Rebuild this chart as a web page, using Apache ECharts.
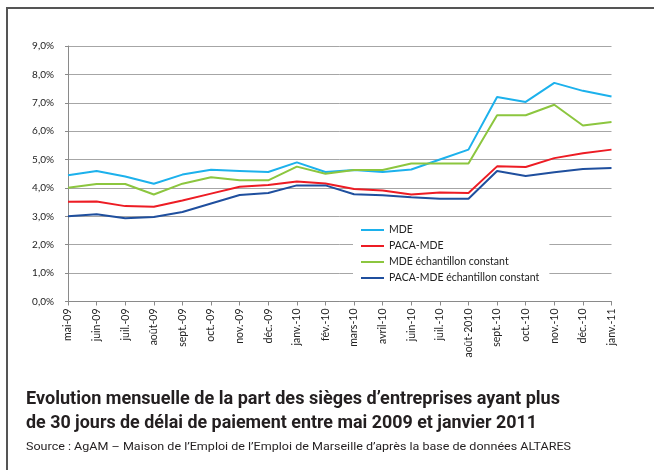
<!DOCTYPE html>
<html>
<head>
<meta charset="utf-8">
<script src="https://cdn.jsdelivr.net/npm/echarts@6/dist/echarts.min.js"></script>
<style>
html,body{margin:0;padding:0;background:#fff;}
#chart{width:654px;height:470px;}
</style>
</head>
<body>
<div id="chart"></div>
<script>
const categories = ['mai-09','juin-09','juil.-09','août-09','sept.-09','oct.-09','nov.-09','déc.-09','janv.-10','fév.-10','mars-10','avril-10','juin-10','juil.-10','août-2010','sept.-10','oct.-10','nov.-10','déc.-10','janv.-11'];
const seriesNames = ['MDE','PACA-MDE','MDE échantillon constant','PACA-MDE échantillon constant'];
const mde = [4.45,4.60,4.40,4.15,4.47,4.64,4.60,4.56,4.90,4.56,4.63,4.56,4.65,5.00,5.35,7.20,7.03,7.70,7.42,7.22];
const pacaMde = [3.51,3.52,3.36,3.34,3.56,3.80,4.04,4.10,4.23,4.16,3.96,3.91,3.77,3.84,3.82,4.76,4.74,5.05,5.22,5.35];
const mdeConst = [4.01,4.14,4.14,3.77,4.15,4.38,4.27,4.27,4.75,4.50,4.63,4.63,4.86,4.86,4.86,6.56,6.56,6.93,6.20,6.32];
const pacaMdeConst = [3.00,3.07,2.93,2.98,3.15,3.45,3.75,3.82,4.09,4.09,3.78,3.74,3.67,3.62,3.62,4.60,4.42,4.55,4.67,4.70];
const yTicks = {min:0, max:9, interval:1};
const titleLines = ['Evolution mensuelle de la part des sièges d’entreprises ayant plus','de 30 jours de délai de paiement entre mai 2009 et janvier 2011'];
const sourceText = 'Source : AgAM – Maison de l’Emploi de l’Emploi de Marseille d’après la base de données ALTARES';

const colors = ['#1cb1ec','#ed1c24','#8cc63f','#1f4f9e'];
const allData = [mde, pacaMde, mdeConst, pacaMdeConst];

function fitScale(text, font, w){
  const c = document.createElement('canvas').getContext('2d');
  c.font = font;
  return w / c.measureText(text).width;
}
const tFont = 'bold 18px Roboto';
const sFont = '11.5px Roboto';
const s1 = fitScale(titleLines[0], tFont, 534);
const s2 = fitScale(titleLines[1], tFont, 511);
const s3 = fitScale(sourceText, sFont, 545);

const chart = echarts.init(document.getElementById('chart'), null, {renderer:'canvas'});
chart.setOption({
  animation:false,
  backgroundColor:'#fff',
  grid:{left:68, right:42.5, top:46, bottom:168.5, containLabel:false},
  legend:{
    orient:'vertical', left:353, top:222,
    padding:[2,10,1,8], backgroundColor:'#fff',
    icon:'rect', itemWidth:23, itemHeight:2, itemGap:4,
    textStyle:{fontFamily:'Lato', fontSize:10.5, color:'#222', lineHeight:12},
    data: seriesNames
  },
  xAxis:{
    type:'category', data:categories, boundaryGap:false,
    axisLine:{lineStyle:{color:'#8a8a8a', width:1}},
    axisTick:{show:true, length:4, alignWithLabel:true, lineStyle:{color:'#8a8a8a'}},
    axisLabel:{rotate:90, interval:0, margin:7, fontFamily:'Lato', fontSize:10.5, color:'#222'},
    splitLine:{show:false}
  },
  yAxis:{
    type:'value', min:yTicks.min, max:yTicks.max, interval:yTicks.interval,
    axisLine:{show:true, lineStyle:{color:'#8a8a8a', width:1}},
    axisTick:{show:true, length:3, lineStyle:{color:'#8a8a8a'}},
    axisLabel:{margin:14, fontFamily:'Lato', fontSize:10, color:'#222',
      formatter:v=>v.toFixed(1).replace('.',',')+'%'},
    splitLine:{show:true, lineStyle:{color:'#a6a6a6', width:1}}
  },
  series: allData.map((d,i)=>({
    name:seriesNames[i], type:'line', data:d, symbol:'none',
    lineStyle:{color:colors[i], width:2}, itemStyle:{color:colors[i]}
  })),
  graphic:[
    {type:'line', shape:{x1:7, y1:8, x2:654, y2:8}, style:{stroke:'#555', lineWidth:2}},
    {type:'line', shape:{x1:7, y1:7, x2:7, y2:470}, style:{stroke:'#555', lineWidth:2}},
    {type:'text', x:26, y:399, scaleX:s1, style:{text:titleLines[0], font:tFont, fill:'#231f20', verticalAlign:'middle'}},
    {type:'text', x:26, y:423, scaleX:s2, style:{text:titleLines[1], font:tFont, fill:'#231f20', verticalAlign:'middle'}},
    {type:'text', x:26, y:447, scaleX:s3, style:{text:sourceText, font:sFont, fill:'#231f20', verticalAlign:'middle'}}
  ]
});
</script>
</body>
</html>
